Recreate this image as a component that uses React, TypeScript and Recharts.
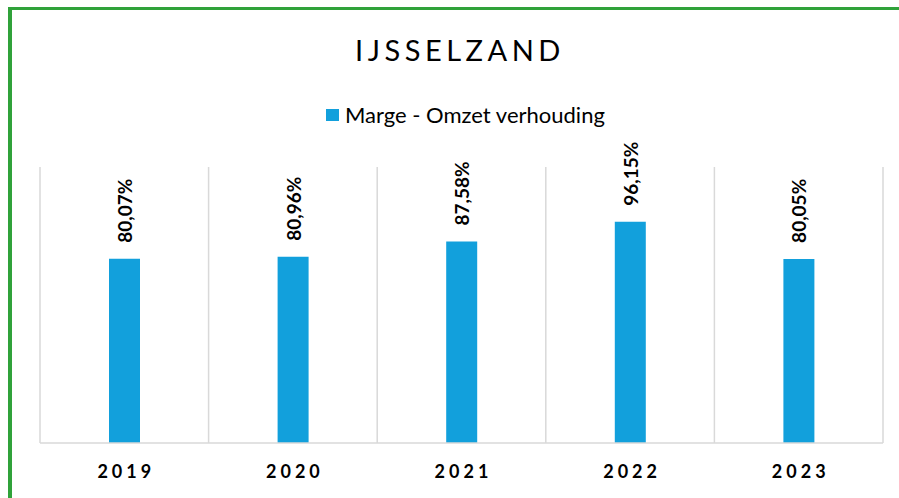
import React from 'react';
import { BarChart, Bar, XAxis, YAxis, CartesianGrid, LabelList } from 'recharts';

const years = ['2019', '2020', '2021', '2022', '2023'];
const margeOmzet = [80.07, 80.96, 87.58, 96.15, 80.05];
const title = 'IJSSELZAND';
const seriesName = 'Marge - Omzet verhouding';

const data = years.map((y, i) => ({ year: y, value: margeOmzet[i] }));

const BLUE = '#12a0dc';
const GREEN = '#30a23a';
const FONT = 'Lato, Carlito, Calibri, sans-serif';

const fmt = (v: number) => v.toFixed(2).replace('.', ',') + '%';

const ValueLabel = (props: any) => {
  const { x, y, width, value } = props;
  const cx = x + width / 2;
  const ty = y - 16;
  return (
    <text
      x={cx}
      y={ty}
      transform={`rotate(-90, ${cx}, ${ty})`}
      textAnchor="start"
      dominantBaseline="central"
      fontFamily={FONT}
      fontWeight={700}
      fontSize={19}
      fill="#000"
    >
      {fmt(value)}
    </text>
  );
};

const YearTick = (props: any) => {
  const { x, y, payload } = props;
  return (
    <text
      x={x + 2}
      y={y + 35}
      textAnchor="middle"
      fontFamily={FONT}
      fontWeight={700}
      fontSize={18}
      letterSpacing={4}
      fill="#000"
    >
      {payload.value}
    </text>
  );
};

export default function App() {
  return (
    <div style={{ position: 'absolute', left: 0, top: 0, width: 899, height: 498, background: '#fff', overflow: 'hidden' }}>
      <div
        style={{
          position: 'absolute',
          left: 8,
          top: 7,
          width: 900,
          height: 500,
          borderTop: `3px solid ${GREEN}`,
          borderLeft: `4px solid ${GREEN}`,
          boxSizing: 'border-box',
        }}
      />
      <div
        style={{
          position: 'absolute',
          left: 0,
          width: 920,
          top: 32,
          textAlign: 'center',
          fontFamily: FONT,
          fontSize: 29,
          letterSpacing: 4.5,
          color: '#000',
          lineHeight: '36px',
        }}
      >
        {title}
      </div>
      <div
        style={{
          position: 'absolute',
          left: 326,
          top: 101,
          display: 'flex',
          alignItems: 'center',
          fontFamily: FONT,
          fontSize: 22,
          color: '#000',
          lineHeight: '28px',
          whiteSpace: 'nowrap',
        }}
      >
        <span style={{ display: 'inline-block', width: 13, height: 12, background: BLUE, marginRight: 6 }} />
        {seriesName}
      </div>
      <div style={{ position: 'absolute', left: 0, top: 0 }}>
        <BarChart
          width={899}
          height={498}
          data={data}
          margin={{ top: 167, right: 16, bottom: 25, left: 40 }}
        >
          <CartesianGrid
            horizontal={false}
            stroke="#d9d9d9"
            strokeWidth={1.5}
            verticalCoordinatesGenerator={({ offset }: any) =>
              [0, 1, 2, 3, 4, 5].map((i) => offset.left + (i * offset.width) / 5)
            }
          />
          <XAxis
            dataKey="year"
            height={30}
            axisLine={{ stroke: '#d9d9d9', strokeWidth: 1.5 }}
            tickLine={false}
            tickSize={0}
            tickMargin={0}
            tick={<YearTick />}
            interval={0}
          />
          <YAxis hide domain={[0, 120]} />
          <Bar dataKey="value" fill={BLUE} barSize={31} isAnimationActive={false}>
            <LabelList dataKey="value" content={<ValueLabel />} />
          </Bar>
        </BarChart>
      </div>
    </div>
  );
}
